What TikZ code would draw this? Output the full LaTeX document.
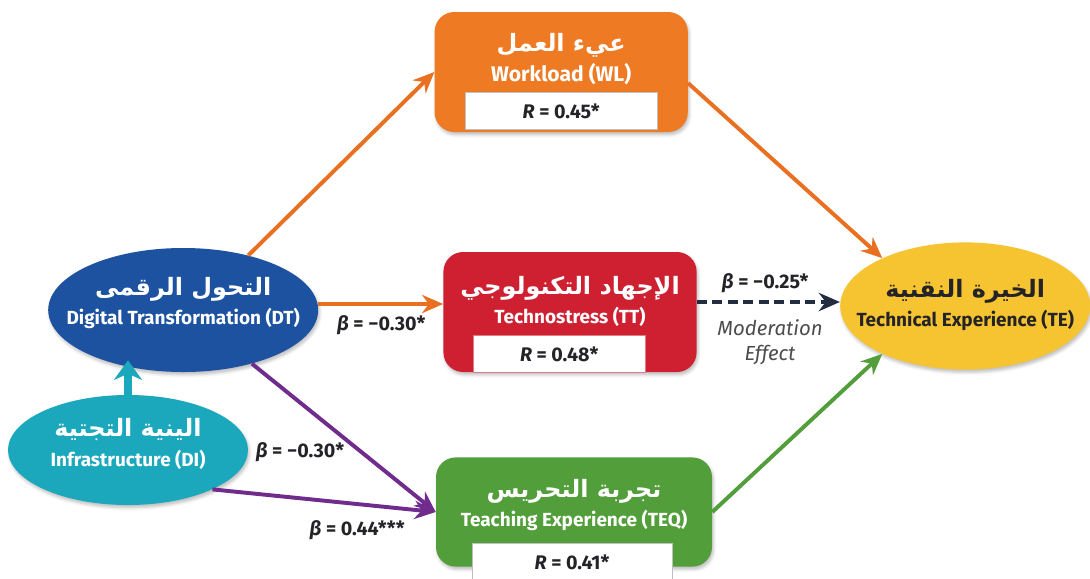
\documentclass[tikz,border=0pt]{standalone}
\usepackage{fontspec}
\setmainfont{Fira Sans}
\newfontfamily\arabicfont[Script=Arabic]{DejaVu Sans}
\TeXXeTstate=1
\usetikzlibrary{
  shapes.geometric,
  arrows.meta,
  positioning,
  shadows.blur
}
\definecolor{wlorange}{RGB}{238,122,36}
\definecolor{flowornge}{RGB}{232,112,32}
\definecolor{ttred}{RGB}{206,32,48}
\definecolor{teqgreen}{RGB}{82,158,58}
\definecolor{dtblue}{RGB}{28,82,160}
\definecolor{diteal}{RGB}{28,168,188}
\definecolor{teyellow}{RGB}{246,196,48}
\definecolor{pathpurple}{RGB}{112,44,140}
\definecolor{modnavy}{RGB}{35,45,65}
\definecolor{txtdark}{RGB}{35,35,40}
\newcommand{\arabtxt}[1]{{\arabicfont\bfseries\beginR #1\endR}}

\begin{document}
\begin{tikzpicture}[
  box/.style={draw=none, rounded corners=14pt, minimum width=6.33cm,
              minimum height=3.0cm,
              blur shadow={shadow xshift=1pt, shadow yshift=-2pt, shadow opacity=25}},
  oval/.style={ellipse, draw=none, inner sep=0pt,
               blur shadow={shadow xshift=1pt, shadow yshift=-2pt, shadow opacity=25}},
  boxtxt/.style={align=center, text=white, font=\fontsize{13.5}{21}\selectfont\bfseries},
  rbox/.style={fill=white, draw=black!25, line width=0.6pt, minimum height=0.93cm,
               font=\fontsize{14}{16}\selectfont\bfseries, text=txtdark},
  flow/.style={-{Stealth[length=15pt,width=13pt]}, line width=2.8pt},
  coef/.style={font=\fontsize{14}{16}\selectfont\bfseries, text=txtdark}
]
\useasboundingbox (0,0) rectangle (27.25,-14.45);

%% Mediator boxes
\node[box, fill=wlorange]  (wl)  at (14.03,-1.80) {};
\node[box, fill=ttred]     (tt)  at (14.25,-7.80) {};
\node[box, fill=teqgreen, minimum width=6.9cm, minimum height=2.73cm] (teq) at (14.35,-12.80) {};

\node[boxtxt, font=\fontsize{15}{21}\selectfont\bfseries] (wltxt) at (14.03,-1.48) {\arabtxt{\fontsize{17}{21}\selectfont عيء العمل}\\Workload (WL)};
\node[boxtxt] (tttxt)  at (14.25,-7.53)  {\arabtxt{\fontsize{17}{21}\selectfont الإجهاد التكنولوجي}\\Technostress (TT)};
\node[boxtxt] (teqtxt) at (14.35,-12.63) {\arabtxt{\fontsize{17}{21}\selectfont تجربة التحريس}\\Teaching Experience (TEQ)};

%% R values
\node[rbox, minimum width=4.8cm]  (wlr)  at (14.03,-2.78)  {\textit{R} = 0.45*};
\node[rbox, minimum width=4.3cm, draw=ttred!60] (ttr) at (13.98,-8.85) {\textit{R} = 0.48*};
\node[rbox, minimum width=5.0cm]  (teqr) at (14.30,-14.05) {\textit{R} = 0.41*};

%% Ovals
\node[oval, fill=dtblue,   minimum width=6.75cm, minimum height=3.1cm]  (dt) at (4.58,-7.75)  {};
\node[oval, fill=diteal,   minimum width=6.0cm,  minimum height=2.75cm] (di) at (3.20,-11.25) {};
\node[oval, fill=teyellow, minimum width=6.25cm, minimum height=3.18cm] (te) at (24.13,-7.65) {};

\node[boxtxt] (dttxt) at (4.58,-7.58)  {\arabtxt{\fontsize{17}{21}\selectfont التحول الرقمى}\\Digital Transformation (DT)};
\node[boxtxt] (ditxt) at (3.20,-11.10) {\arabtxt{\fontsize{17}{21}\selectfont الينية التجتية}\\Infrastructure (DI)};
\node[boxtxt, text=txtdark] (tetxt) at (24.13,-7.63) {\arabtxt{\fontsize{17}{21}\selectfont الخيرة النقنية}\\Technical Experience (TE)};

%% Paths
\draw[flow, flowornge] (dt.40) -- (wl.west);
\draw[flow, flowornge] ([yshift=0.15cm]dt.east) -- ([yshift=0.15cm]dt.east -| tt.west);
\draw[flow, flowornge] (wl.-5) -- (te.150);
\draw[flow, pathpurple] (dt.-38) -- (teq.west);
\draw[flow, pathpurple] (di.-25) -- (teq.west);
\draw[flow, teqgreen] (teq.east) -- (te.210);
\draw[-{Stealth[length=14pt,width=20pt]}, line width=5pt, diteal, shorten >=-0.3cm] (di.north) -- (di.north |- dt.south);
\draw[flow, modnavy, dashed, dash pattern=on 7pt off 4pt] ([yshift=0.25cm]tt.east) -- ([yshift=0.25cm]tt.east -| te.west);

%% Coefficients
\node[coef] (b1) at (9.53,-8.13)  {\textit{β} = −0.30*};
\node[coef] (b2) at (19.13,-7.08) {\textit{β} = −0.25*};
\node[coef] (b3) at (7.50,-11.30) {\textit{β} = −0.30*};
\node[coef] (b4) at (8.93,-13.25) {\textit{β} = 0.44***};
\node[align=center, text=black!70, font=\fontsize{14.5}{18}\selectfont\itshape] (mod) at (19.25,-8.55) {Moderation\\Effect};
\end{tikzpicture}
\end{document}
